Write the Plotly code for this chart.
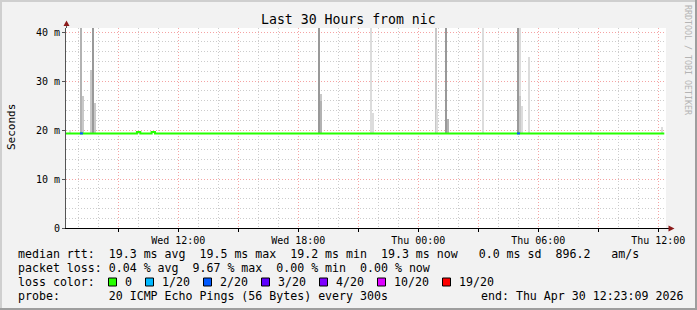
import plotly.graph_objects as go
import pandas as pd

# ---------------- data ----------------
x_start = "2026-04-29 06:23:09"
x_end = "2026-04-30 12:23:09"

y_tick_vals = [0, 10, 20, 30, 40]
y_tick_text = ["0", "10 m", "20 m", "30 m", "40 m"]

# smoke (ping spread) bands: centre time, base (ms), top (ms), pings in band (shade level)
smoke_time = ["2026-04-29 06:35", "2026-04-29 07:07", "2026-04-29 07:14", "2026-04-29 07:38",
              "2026-04-29 07:44", "2026-04-29 07:50", "2026-04-29 19:02:40", "2026-04-29 19:08",
              "2026-04-29 19:08", "2026-04-29 21:38:40", "2026-04-29 21:44:40", "2026-04-30 00:53",
              "2026-04-30 00:57", "2026-04-30 01:22:30", "2026-04-30 01:29", "2026-04-30 03:14:40",
              "2026-04-30 04:58:30", "2026-04-30 05:05", "2026-04-30 05:05", "2026-04-30 05:12",
              "2026-04-30 05:33:20", "2026-04-30 08:37", "2026-04-30 12:12"]
smoke_base = [19.3] * 23
smoke_top = [20.0, 60.0, 27.0, 32.3,
             60.0, 25.5, 60.0, 27.3,
             26.0, 60.0, 23.5, 60.0,
             24.2, 60.0, 22.2, 60.0,
             60.0, 60.0, 27.0, 25.0,
             35.0, 20.0, 20.6]
smoke_level = [1, 3, 2, 2,
               4, 2, 4, 2,
               3, 1, 1, 2,
               1, 4, 3, 1,
               4, 1, 2, 1,
               1, 1, 1]

# median rtt (step series)
median_time = ["2026-04-29 06:23:09", "2026-04-29 09:56", "2026-04-29 10:06",
               "2026-04-29 10:40", "2026-04-29 10:50", "2026-04-30 12:18"]
median_rtt = [19.3, 19.6, 19.3, 19.6, 19.3, 19.3]

# packet loss episodes (lost pings out of 20)
loss_start = ["2026-04-29 07:05", "2026-04-30 04:56"]
loss_end = ["2026-04-29 07:14", "2026-04-30 05:05"]
loss_count = [2, 2]

legend_levels = ["0", "1/20", "2/20", "3/20", "4/20", "10/20", "19/20"]
legend_colors = ["#26ff00", "#00b8ff", "#0059ff", "#5e00ff", "#7e00ff", "#dd00ff", "#ff0000"]

stat_line1 = "median rtt:  19.3 ms avg  19.5 ms max  19.2 ms min  19.3 ms now   0.0 ms sd  896.2   am/s"
stat_line2 = "packet loss: 0.04 % avg  9.67 % max  0.00 % min  0.00 % now"
probe_text = "probe:       20 ICMP Echo Pings (56 Bytes) every 300s"
end_text = "end: Thu Apr 30 12:23:09 2026"
title_text = "Last 30 Hours from nic"

# ---------------- layout geometry ----------------
W, H = 697, 310
L, T, PW, PH = 66, 28, 600, 200
MONO = "DejaVu Sans Mono"


def px(xp):
    return (xp - L) / PW


def py(yp):
    return (T + PH - yp) / PH


def nb(s):
    return s.replace(" ", "\u00a0")


shade = {1: "#dcdcdc", 2: "#c8c8c8", 3: "#b2b2b2", 4: "#999999"}
loss_color = {0: "#26ff00", 1: "#00b8ff", 2: "#0059ff", 3: "#5e00ff", 4: "#7e00ff", 10: "#dd00ff", 19: "#ff0000"}
STEP_MS = 6 * 60 * 1000

fig = go.Figure()

# smoke, tallest first so lower bands overlay
order = sorted(range(len(smoke_time)), key=lambda i: -smoke_top[i])
fig.add_trace(go.Bar(
    x=[pd.Timestamp(smoke_time[i]) for i in order],
    y=[smoke_top[i] - smoke_base[i] for i in order],
    base=[smoke_base[i] for i in order],
    width=[STEP_MS] * len(order),
    marker=dict(color=[shade[smoke_level[i]] for i in order], line=dict(width=0)),
    showlegend=False, hoverinfo="skip"))

# median line
fig.add_trace(go.Scatter(x=median_time, y=median_rtt, mode="lines",
                         line=dict(color=loss_color[0], width=2, shape="hv"),
                         showlegend=False, hoverinfo="skip"))

# loss coloured segments
for s, e, c in zip(loss_start, loss_end, loss_count):
    fig.add_trace(go.Scatter(x=[s, e], y=[median_rtt[0], median_rtt[0]], mode="lines",
                             line=dict(color=loss_color[c], width=2),
                             showlegend=False, hoverinfo="skip"))

shapes = []
annotations = []

# frame
shapes.append(dict(type="line", xref="paper", yref="paper", x0=px(0), x1=px(W), y0=py(1), y1=py(1),
                   line=dict(color="#cfcfcf", width=2), layer="above"))
shapes.append(dict(type="line", xref="paper", yref="paper", x0=px(1), x1=px(1), y0=py(0), y1=py(H),
                   line=dict(color="#cfcfcf", width=2), layer="above"))
shapes.append(dict(type="line", xref="paper", yref="paper", x0=px(W - 1), x1=px(W - 1), y0=py(0), y1=py(H),
                   line=dict(color="#9e9e9e", width=2), layer="above"))
shapes.append(dict(type="line", xref="paper", yref="paper", x0=px(0), x1=px(W), y0=py(H - 1), y1=py(H - 1),
                   line=dict(color="#9e9e9e", width=2), layer="above"))

# axis extensions and arrows
shapes.append(dict(type="line", xref="paper", yref="paper", x0=px(66.5), x1=px(66.5), y0=py(T), y1=py(24),
                   line=dict(color="#555555", width=1), layer="above"))
shapes.append(dict(type="path", xref="paper", yref="paper",
                   path=f"M {px(63.5)},{py(26)} L {px(69.5)},{py(26)} L {px(66.5)},{py(20.5)} Z",
                   fillcolor="#8b1a1a", line=dict(width=0), layer="above"))
shapes.append(dict(type="line", xref="paper", yref="paper", x0=px(666), x1=px(669), y0=py(228.5), y1=py(228.5),
                   line=dict(color="#000000", width=1), layer="above"))
shapes.append(dict(type="path", xref="paper", yref="paper",
                   path=f"M {px(668.5)},{py(225.5)} L {px(668.5)},{py(231.5)} L {px(674.5)},{py(228.5)} Z",
                   fillcolor="#8b1a1a", line=dict(width=0), layer="above"))

# title
annotations.append(dict(text=title_text, xref="paper", yref="paper", x=px(348), y=py(19),
                        xanchor="center", yanchor="middle", showarrow=False,
                        font=dict(family=MONO, size=13.2, color="#000000")))
# y axis title
annotations.append(dict(text="Seconds", xref="paper", yref="paper", x=px(11), y=py(127),
                        xanchor="center", yanchor="middle", showarrow=False, textangle=-90,
                        font=dict(family=MONO, size=11, color="#000000")))
# watermark
annotations.append(dict(text="RRDTOOL / TOBI OETIKER", xref="paper", yref="paper", x=px(688), y=py(60),
                        xanchor="center", yanchor="middle", showarrow=False, textangle=90,
                        font=dict(family=MONO, size=8.3, color="#b4b4b4")))

LF = 11.6
rows_y = [254, 268, 282, 296]
annotations.append(dict(text=nb(stat_line1), xref="paper", yref="paper", x=px(15.5), y=py(rows_y[0]),
                        xanchor="left", yanchor="middle", showarrow=False,
                        font=dict(family=MONO, size=LF, color="#000000")))
annotations.append(dict(text=nb(stat_line2), xref="paper", yref="paper", x=px(15.5), y=py(rows_y[1]),
                        xanchor="left", yanchor="middle", showarrow=False,
                        font=dict(family=MONO, size=LF, color="#000000")))
annotations.append(dict(text=nb("loss color:"), xref="paper", yref="paper", x=px(15.5), y=py(rows_y[2]),
                        xanchor="left", yanchor="middle", showarrow=False,
                        font=dict(family=MONO, size=LF, color="#000000")))
box_x = [108.5, 145.5, 203.5, 261.5, 319.5, 377.5, 442.5]
for bx, lab, col in zip(box_x, legend_levels, legend_colors):
    shapes.append(dict(type="rect", xref="paper", yref="paper", x0=px(bx), x1=px(bx + 8),
                       y0=py(278), y1=py(286), fillcolor=col, line=dict(color="#000000", width=1),
                       layer="above"))
    annotations.append(dict(text=lab, xref="paper", yref="paper", x=px(bx + 14.5), y=py(rows_y[2]),
                            xanchor="left", yanchor="middle", showarrow=False,
                            font=dict(family=MONO, size=LF, color="#000000")))
annotations.append(dict(text=nb(probe_text), xref="paper", yref="paper", x=px(15.5), y=py(rows_y[3]),
                        xanchor="left", yanchor="middle", showarrow=False,
                        font=dict(family=MONO, size=LF, color="#000000")))
annotations.append(dict(text=nb(end_text), xref="paper", yref="paper", x=px(478.5), y=py(rows_y[3]),
                        xanchor="left", yanchor="middle", showarrow=False,
                        font=dict(family=MONO, size=LF, color="#000000")))

GRID_MINOR = "#cccccc"
GRID_MAJOR = "#f5a3a3"
DOT = "1px,2px"

fig.update_layout(
    width=W, height=H,
    margin=dict(l=L, r=W - L - PW, t=T, b=H - T - PH, pad=0),
    paper_bgcolor="#f2f2f2", plot_bgcolor="#ffffff",
    barmode="overlay", bargap=0,
    showlegend=False,
    shapes=shapes, annotations=annotations,
    xaxis=dict(type="date", range=[x_start, x_end],
               tickmode="linear", tick0="2026-04-29 00:00", dtick=3 * 3600 * 1000,
               ticklabelstep=2, tickformat="%a %H:%M",
               tickfont=dict(family=MONO, size=10, color="#000000"),
               ticks="outside", ticklen=3, tickcolor="#000000",
               showgrid=True, gridcolor=GRID_MAJOR, griddash=DOT, gridwidth=1,
               showline=True, linecolor="#000000", linewidth=1,
               zeroline=False, fixedrange=True,
               minor=dict(tick0="2026-04-29 00:00", dtick=3600 * 1000, showgrid=True,
                          gridcolor=GRID_MINOR, griddash=DOT, gridwidth=1)),
    yaxis=dict(range=[0, PH / 4.9], tickmode="array", tickvals=y_tick_vals, ticktext=y_tick_text,
               tickfont=dict(family=MONO, size=10, color="#000000"),
               ticks="outside", ticklen=3, tickcolor="#555555",
               showgrid=True, gridcolor=GRID_MAJOR, griddash=DOT, gridwidth=1,
               showline=True, linecolor="#555555", linewidth=1,
               zeroline=False, fixedrange=True,
               minor=dict(tick0=0, dtick=2, showgrid=True, gridcolor=GRID_MINOR, griddash=DOT, gridwidth=1)),
)

fig.write_html("out.html")
